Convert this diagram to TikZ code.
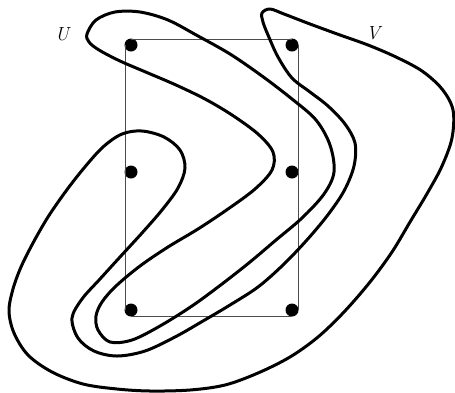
\documentclass[tikz,border=0pt]{standalone}
\usepackage{fontspec}
\usepackage{tikz}

\begin{document}
\begin{tikzpicture}[x=1pt, y=-1pt, every node/.style={font=\fontsize{19}{22}\selectfont\itshape},
  dot/.style={circle, fill=black, inner sep=0pt, minimum size=13pt},
  frame/.style={line width=0.9pt, black!70},
  set/.style={line width=3pt, line join=round}]
	\useasboundingbox (0,0) rectangle (455,392);
	% points
	\node[dot] (a1) at (131,45) {};
	\node[dot] (a2) at (131,172) {};
	\node[dot] (a3) at (131,310) {};
	\node[dot] (b1) at (292,45) {};
	\node[dot] (b2) at (292,172) {};
	\node[dot] (b3) at (292,310) {};
	% frame, set off a little from the points
	\draw[frame] ([yshift=6pt]a1.center) -- ([yshift=6pt]b1.center);
	\draw[frame] ([xshift=6pt]b1.center) -- ([xshift=6pt]b3.center);
	\draw[frame] ([yshift=-6pt]b3.center) -- ([yshift=-6pt]a3.center);
	\draw[frame] ([xshift=-6pt]a3.center) -- ([xshift=-6pt]a1.center);
	% the set U
	\draw[set] plot[smooth cycle, tension=0.55] coordinates {
		(87,34) (96,20) (115,12) (140,12) (168,20) (198,36) (230,54) (262,76)
		(292,99) (316,120) (330,145) (334,172) (324,194) (302,218) (276,240)
		(250,262) (222,284) (192,306) (160,326) (132,340) (110,342) (98,330)
		(96,316) (102,302) (116,286) (140,266) (168,247) (198,229) (228,209)
		(255,189) (272,170) (273,152) (258,134) (232,115) (205,99) (176,85)
		(148,73) (120,61) (99,50) (89,42)};
	% the set V
	\draw[set] plot[smooth cycle, tension=0.55] coordinates {
		(262,13) (270,9) (284,14) (310,24) (340,35) (368,45) (396,57) (422,71)
		(442,89) (453,110) (452,138) (442,166) (428,192) (410,222) (392,252)
		(370,282) (344,312) (318,337) (290,357) (258,373) (225,385) (190,390)
		(150,391) (117,389) (83,384) (52,372) (28,355) (14,333) (9,311)
		(13,289) (21,267) (33,243) (48,217) (66,191) (84,168) (103,147)
		(122,134) (142,131) (164,137) (180,150) (185,168) (178,188) (162,210)
		(142,233) (120,257) (100,279) (82,299) (72,318) (78,338) (94,351)
		(117,356) (145,351) (175,337) (203,321) (230,305) (258,287) (283,265)
		(306,241) (327,216) (344,191) (354,166) (355,143) (345,124) (328,106)
		(310,92) (292,78) (278,57) (268,35) (263,22)};
	\node (lu) at (62,34) {U};
	\node (lv) at (373,33) {V};
\end{tikzpicture}
\end{document}
